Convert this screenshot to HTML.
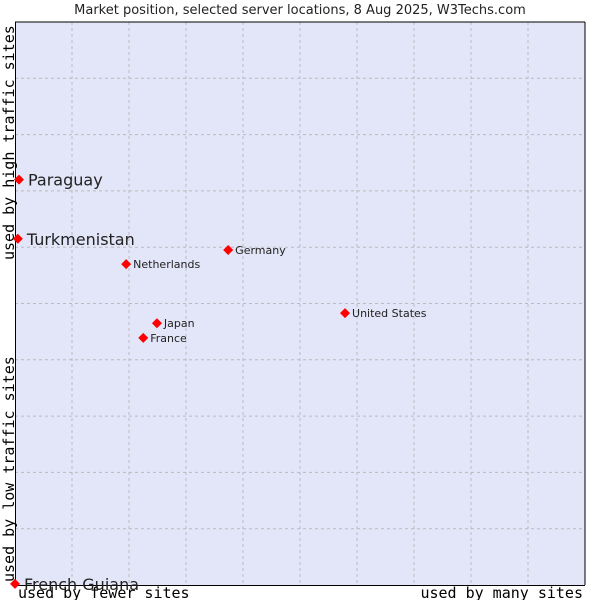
<!DOCTYPE html>
<html><head><meta charset="utf-8"><style>
body{margin:0;background:#fff;width:600px;height:600px;overflow:hidden}
text{font-family:"DejaVu Sans","Liberation Sans",sans-serif}
.mono{font-family:"DejaVu Sans Mono","Liberation Mono",monospace}
</style></head><body>
<svg id="chart" width="600" height="600">
<text x="300" y="14" text-anchor="middle" font-size="13" fill="#222">Market position, selected server locations, 8 Aug 2025, W3Techs.com</text>
<rect x="15" y="22" width="570" height="563" fill="#e3e5f8"/>
<g id="grid"></g>
<line x1="15" y1="22" x2="585" y2="22" stroke="#000"/>
<line x1="585" y1="22" x2="585" y2="585" stroke="#000"/>
<line x1="15.5" y1="22" x2="15.5" y2="585" stroke="#000"/>
<line x1="15" y1="585.5" x2="585" y2="585.5" stroke="#000"/>
<text class="mono" transform="translate(14,260) rotate(-90)" font-size="15" fill="#000">used by high traffic sites</text>
<text class="mono" transform="translate(14,582) rotate(-90)" font-size="15" fill="#000">used by low traffic sites</text>
<text class="mono" x="18" y="598" font-size="15" fill="#000">used by fewer sites</text>
<text class="mono" x="583" y="598" text-anchor="end" font-size="15" fill="#000">used by many sites</text>
<g id="points"></g>
</svg>
<script>
const countries=["Paraguay","Turkmenistan","Germany","Netherlands","United States","Japan","France","French Guiana"];
const usage=[0.7,0.5,37.4,19.5,57.9,24.9,22.5,0];
const traffic=[72.0,61.5,59.5,57.0,48.3,46.5,43.9,0.2];
const big=[true,true,false,false,false,false,false,true];
const L=15,T=22,W=570,H=563;
const xs=v=>L+v/100*W, ys=v=>T+H-v/100*H;
const NS="http://www.w3.org/2000/svg";
const g=document.getElementById('grid');
for(let i=1;i<10;i++){
  const lv=document.createElementNS(NS,'line');
  
  
  lv.setAttribute('x1',xs(i*10));lv.setAttribute('x2',xs(i*10));lv.setAttribute('y1',T);lv.setAttribute('y2',T+H);
  lv.setAttribute('stroke','#bbb');lv.setAttribute('stroke-dasharray','3,3');g.appendChild(lv);
  const lh=document.createElementNS(NS,'line');
  
  
  lh.setAttribute('y1',ys(i*10));lh.setAttribute('y2',ys(i*10));lh.setAttribute('x1',L);lh.setAttribute('x2',L+W);
  lh.setAttribute('stroke','#bbb');lh.setAttribute('stroke-dasharray','3,3');g.appendChild(lh);
}
const p=document.getElementById('points');
countries.forEach((c,i)=>{
  const x=xs(usage[i]),y=ys(traffic[i]);
  const d=document.createElementNS(NS,'path');
  
  
  d.setAttribute('d',`M${x-5},${y}L${x},${y-5}L${x+5},${y}L${x},${y+5}Z`);
  d.setAttribute('fill','#f00');p.appendChild(d);
  const t=document.createElementNS(NS,'text');
  
  
  t.setAttribute('x',x+(big[i]?9:7));t.setAttribute('y',y+(big[i]?6:4));
  t.setAttribute('font-size',big[i]?16:11);t.setAttribute('fill','#222');
  t.textContent=c;p.appendChild(t);
});
</script>
</body></html>
